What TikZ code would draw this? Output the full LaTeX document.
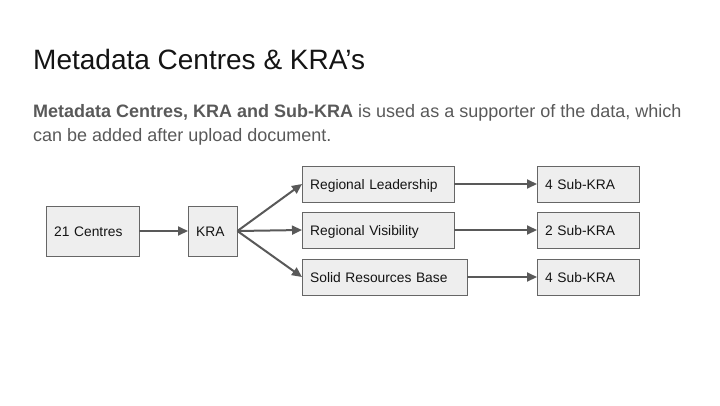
\documentclass[tikz,border=0pt]{standalone}
\usepackage{fontspec}
\setmainfont{Liberation Sans}
\usetikzlibrary{arrows.meta}
\definecolor{boxFill}{RGB}{238, 238, 238}
\definecolor{boxLine}{RGB}{102, 102, 102}
\definecolor{arrowGray}{RGB}{89, 89, 89}
\definecolor{bodyGray}{RGB}{89, 89, 89}
\definecolor{titleBlack}{RGB}{20, 20, 20}

\begin{document}
\begin{tikzpicture}[x=1pt, y=-1pt,
    kbox/.style={draw=boxLine, fill=boxFill, anchor=west, inner xsep=8pt,
      align=left, text=titleBlack, minimum height=36pt,
      text height=10.5pt, text depth=0pt,
      font=\fontsize{13.8}{16}\selectfont},
    link/.style={draw=arrowGray, line width=2pt,
      -{Triangle[length=10pt, width=9pt]}}]
  \useasboundingbox (0,0) rectangle (720,405);

  % Heading and text
  \node[anchor=base west, inner sep=0, text=titleBlack,
    font=\fontsize{28}{30}\selectfont] (title) at (33,69) {Metadata Centres \& KRA’s};
  \node[anchor=base west, inner sep=0, text=bodyGray, align=left,
    font=\fontsize{18}{24.4}\selectfont] (intro) at (33,141.7)
    {\textbf{Metadata Centres, KRA and Sub-KRA} is used as a supporter of the data, which\\
     can be added after upload document.};

  % Left boxes
  \node[kbox, text width=77pt, minimum height=50pt] (centres) at (46,231) {21 Centres};
  \node[kbox, text width=33pt, minimum height=50pt] (kra) at (188,231) {KRA};

  % Middle boxes
  \node[kbox, text width=136pt] (lead) at (302,184) {Regional Leadership};
  \node[kbox, text width=136pt] (vis) at (302,230) {Regional Visibility};
  \node[kbox, text width=149pt] (base) at (302,277) {Solid Resources Base};

  % Sub-KRA boxes
  \node[kbox, text width=86pt] (leadsub) at (537,184) {4 Sub-KRA};
  \node[kbox, text width=86pt] (vissub) at (537,230) {2 Sub-KRA};
  \node[kbox, text width=86pt] (basesub) at (537,277) {4 Sub-KRA};

  % Arrows
  \draw[link] (centres) -- (kra);
  \draw[link] (kra.east) -- (lead.west);
  \draw[link] (kra.east) -- (vis.west);
  \draw[link] (kra.east) -- (base.west);
  \draw[link] (lead) -- (leadsub);
  \draw[link] (vis) -- (vissub);
  \draw[link] (base) -- (basesub);
\end{tikzpicture}
\end{document}
